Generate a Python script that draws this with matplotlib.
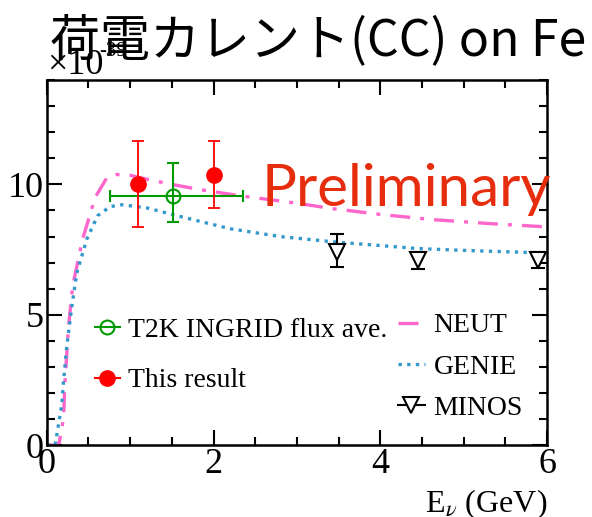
import matplotlib
matplotlib.use('Agg')
import matplotlib.pyplot as plt
from matplotlib.lines import Line2D
from matplotlib.ticker import MultipleLocator

# This result (red filled circles)
res_x = [1.1, 2.0]
res_y = [10.0, 10.35]
res_up = [1.65, 1.3]
res_dn = [1.65, 1.27]

# T2K INGRID flux averaged (green open circle)
ing_x = [1.51]
ing_y = [9.54]
ing_xlo = [0.75]
ing_xhi = [0.84]
ing_up = [1.3]
ing_dn = [1.0]

# MINOS (open down triangles)
minos_x = [3.48, 4.45, 5.89]
minos_y = [7.42, 7.10, 7.10]
minos_up = [0.66, 0.32, 0.30]
minos_dn = [0.57, 0.33, 0.30]

# NEUT prediction
neut_x = [0.0, 0.1, 0.15, 0.2, 0.22, 0.26, 0.31, 0.43, 0.58, 0.72, 0.84, 1.0, 1.2, 1.5,
          1.84, 2.35, 3.0, 3.43, 4.0, 4.63, 5.3, 5.95, 6.0]
neut_y = [0.0, 0.0, 0.1, 1.0, 2.5, 4.5, 6.1, 7.9, 9.5, 10.25, 10.38, 10.35, 10.2, 10.0,
          9.8, 9.55, 9.28, 9.07, 8.85, 8.65, 8.5, 8.38, 8.36]

# GENIE prediction
genie_x = [0.0, 0.1, 0.13, 0.18, 0.2, 0.24, 0.3, 0.36, 0.48, 0.61, 0.76, 0.9, 1.2, 1.5,
           1.84, 2.2, 2.8, 3.43, 4.45, 5.0, 5.89, 6.0]
genie_y = [0.0, 0.0, 0.58, 1.54, 2.4, 3.8, 5.3, 6.6, 7.9, 8.8, 9.15, 9.22, 9.1, 8.85,
           8.58, 8.3, 8.0, 7.8, 7.54, 7.47, 7.38, 7.36]

serif = 'Liberation Serif'
pink = '#ff66cc'
blue = '#3399cc'
plt.rcParams['mathtext.fontset'] = 'stix'

fig = plt.figure(figsize=(5.92, 5.17), dpi=100)
ax = fig.add_axes([0.079, 0.139, 0.845, 0.706])

ax.plot(neut_x, neut_y, color=pink, lw=2.4, dashes=(6, 3, 1.2, 3))
ax.plot(genie_x, genie_y, color=blue, lw=2.4, dashes=(1.0, 1.6))

ax.errorbar(ing_x, ing_y, xerr=[ing_xlo, ing_xhi], yerr=[ing_dn, ing_up], fmt='o',
            mfc='none', mec='#009900', color='#009900', ms=10, mew=1.5, elinewidth=1.5,
            capsize=4, capthick=1.5)
ax.errorbar(res_x, res_y, yerr=[res_dn, res_up], fmt='o', color='red', ms=11,
            elinewidth=1.3, capsize=4, capthick=1.3)
ax.errorbar(minos_x, minos_y, yerr=[minos_dn, minos_up], fmt='v', mfc='white',
            mec='black', color='black', ms=12, mew=1.5, elinewidth=1.5, capsize=5,
            capthick=1.5)

ax.set_xlim(0, 6)
ax.set_ylim(0, 14)
ax.xaxis.set_major_locator(MultipleLocator(2))
ax.xaxis.set_minor_locator(MultipleLocator(0.5))
ax.yaxis.set_major_locator(MultipleLocator(5))
ax.yaxis.set_minor_locator(MultipleLocator(1))
ax.tick_params(which='both', direction='in', top=True, right=True, width=1.5)
ax.tick_params(which='major', length=11, labelsize=26, pad=2)
ax.tick_params(which='minor', length=6)
for lab in ax.get_xticklabels() + ax.get_yticklabels():
    lab.set_fontfamily(serif)
for s in ax.spines.values():
    s.set_linewidth(1.8)

ax.text(1.0, -0.115, r'E$_\nu$ (GeV)', transform=ax.transAxes, ha='right', va='top',
        fontsize=23, family=serif)

ax.text(0.43, 0.70, 'Preliminary', transform=ax.transAxes, ha='left', va='center',
        fontsize=42, color='#e62e0f', family='Lato')

left_handles = [
    Line2D([], [], color='#009900', marker='o', mfc='none', mec='#009900', ms=10, mew=1.5, lw=1.5),
    Line2D([], [], color='red', marker='o', ms=11, lw=1.5),
]
leg1 = ax.legend(left_handles, ['T2K INGRID flux ave.', 'This result'], loc='upper left',
                 bbox_to_anchor=(0.074, 0.38), frameon=False, handlelength=0.9,
                 handletextpad=0.3, labelspacing=0.9, borderaxespad=0,
                 prop={'family': serif, 'size': 20})
ax.add_artist(leg1)

right_handles = [
    Line2D([], [], color=pink, lw=2.4, dashes=(6, 3, 1.2, 3)),
    Line2D([], [], color=blue, lw=2.4, dashes=(1.0, 1.6)),
    Line2D([], [], color='black', marker='v', mfc='white', mec='black', ms=12, mew=1.5, lw=1.5),
]
ax.legend(right_handles, ['NEUT', 'GENIE', 'MINOS'], loc='upper left',
          bbox_to_anchor=(0.679, 0.393), frameon=False, handlelength=1.0,
          handletextpad=0.3, labelspacing=0.57, borderaxespad=0,
          prop={'family': serif, 'size': 20})

# title first, then the axis multiplier drawn on top of it
fig.text(0.085, 0.893, '荷電カレント(CC) on Fe', fontsize=36,
         family=['Noto Sans CJK JP', 'DejaVu Sans'], ha='left', va='baseline', zorder=1)
fig.text(0.08, 0.857, '×10', fontsize=26, family=serif, ha='left', va='baseline', zorder=2)
fig.text(0.168, 0.892, '-39', fontsize=15, family=serif, ha='left', va='baseline', zorder=2)

fig.savefig('out.png', dpi=100)
